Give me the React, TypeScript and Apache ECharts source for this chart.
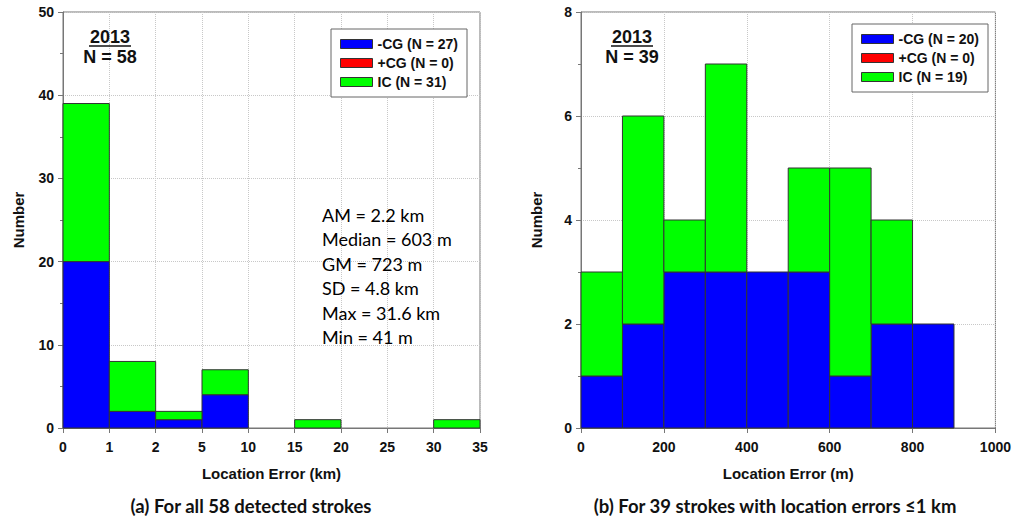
import React, { useEffect, useRef } from "react";
import * as echarts from "echarts";

// Panel (a): bins of location error (km), equal-width display bins
const leftEdgeLabels = ["0", "1", "2", "5", "10", "15", "20", "25", "30", "35"];
const leftNegCG = [20, 2, 1, 4, 0, 0, 0, 0, 0];
const leftPosCG = [0, 0, 0, 0, 0, 0, 0, 0, 0];
const leftIC = [19, 6, 1, 3, 0, 1, 0, 0, 1];
const leftNames = ["-CG (N = 27)", "+CG (N = 0)", "IC (N = 31)"];
const leftStats = ["AM = 2.2 km", "Median = 603 m", "GM = 723 m", "SD = 4.8 km", "Max = 31.6 km", "Min = 41 m"];

// Panel (b): bins of 100 m
const rightBinStarts = [0, 100, 200, 300, 400, 500, 600, 700, 800];
const rightBinWidth = 100;
const rightNegCG = [1, 2, 3, 3, 3, 3, 1, 2, 2];
const rightPosCG = [0, 0, 0, 0, 0, 0, 0, 0, 0];
const rightIC = [2, 4, 1, 4, 0, 2, 4, 2, 0];
const rightNames = ["-CG (N = 20)", "+CG (N = 0)", "IC (N = 19)"];

const COLORS = ["#0000ff", "#ff0000", "#00ff00"];

function stackRows(starts: number[], ends: number[], layers: number[][]) {
  const out: number[][][] = layers.map(() => []);
  starts.forEach((s, i) => {
    let base = 0;
    layers.forEach((layer, k) => {
      const v = layer[i];
      if (v > 0) out[k].push([s, ends[i], base, base + v]);
      base += v;
    });
  });
  return out;
}

const renderRect = (color: string) => (params: any, api: any) => {
  const p0 = api.coord([api.value(0), api.value(2)]);
  const p1 = api.coord([api.value(1), api.value(3)]);
  return {
    type: "rect",
    shape: { x: p0[0], y: p1[1], width: p1[0] - p0[0], height: p0[1] - p1[1] },
    style: { fill: color, stroke: "#333", lineWidth: 1 },
  };
};

const ARIAL = "'Liberation Sans', Arial, sans-serif";

export default function App() {
  const ref = useRef<HTMLDivElement>(null);
  useEffect(() => {
    document.body.style.margin = "0";
    const chart = echarts.init(ref.current!, null, { renderer: "svg" });

    const leftStarts = leftNegCG.map((_, i) => i);
    const leftEnds = leftNegCG.map((_, i) => i + 1);
    const leftStack = stackRows(leftStarts, leftEnds, [leftNegCG, leftPosCG, leftIC]);
    const rightEnds = rightBinStarts.map((s) => s + rightBinWidth);
    const rightStack = stackRows(rightBinStarts, rightEnds, [rightNegCG, rightPosCG, rightIC]);

    const axisColor = "#777";
    const labelStyle = { color: "#111", fontFamily: ARIAL, fontWeight: "bold" as const, fontSize: 14 };
    const nameStyle = { color: "#111", fontFamily: ARIAL, fontWeight: "bold" as const, fontSize: 15 };
    const split = { show: true, lineStyle: { color: "#c8c8c8", type: "dotted" as const, width: 1 } };

    const mkY = (gridIndex: number, max: number, interval: number) => ({
      type: "value",
      gridIndex,
      min: 0,
      max,
      interval,
      name: "Number",
      nameLocation: "middle",
      nameGap: 37,
      nameTextStyle: nameStyle,
      axisLine: { show: true, lineStyle: { color: axisColor } },
      axisTick: { show: true, length: 5, lineStyle: { color: axisColor } },
      minorTick: { show: true, splitNumber: 2, length: 3, lineStyle: { color: axisColor } },
      axisLabel: { ...labelStyle, margin: 9 },
      splitLine: split,
    });

    const legendBase = {
      orient: "vertical",
      icon: "rect",
      itemWidth: 32,
      itemHeight: 9,
      itemGap: 5,
      padding: [8, 9, 8, 9],
      borderColor: "#666",
      borderWidth: 1,
      backgroundColor: "#fff",
      selectedMode: false,
      textStyle: { color: "#111", fontFamily: ARIAL, fontWeight: "bold", fontSize: 14, lineHeight: 13 },
    };

    const mkSeries = (names: string[], stacks: number[][][], axisIndex: number) =>
      names.map((name, k) => ({
        type: "custom",
        name,
        xAxisIndex: axisIndex,
        yAxisIndex: axisIndex,
        itemStyle: { color: COLORS[k] },
        encode: { x: [0, 1], y: [2, 3] },
        renderItem: renderRect(COLORS[k]),
        data: stacks[k],
        z: 3,
      }));

    const statFont = { fontFamily: "Lato, sans-serif", fontSize: 18, fill: "#000" };
    const headFont = { fontFamily: ARIAL, fontWeight: "bold", fontSize: 18, fill: "#111" };
    const capFont = { fontFamily: "Lato, sans-serif", fontWeight: "bold", fontSize: 18.5, fill: "#111" };

    chart.setOption({
      animation: false,
      grid: [
        { left: 63, right: 534, top: 12, bottom: 90, show: true, borderColor: axisColor, borderWidth: 1, containLabel: false },
        { left: 581, right: 17, top: 12, bottom: 90, show: true, borderColor: axisColor, borderWidth: 1, containLabel: false },
      ],
      xAxis: [
        {
          type: "value",
          gridIndex: 0,
          min: 0,
          max: leftEdgeLabels.length - 1,
          interval: 1,
          name: "Location Error (km)",
          nameLocation: "middle",
          nameGap: 38,
          nameTextStyle: nameStyle,
          axisLine: { show: true, lineStyle: { color: axisColor } },
          axisTick: { show: true, length: 5, lineStyle: { color: axisColor } },
          axisLabel: { ...labelStyle, margin: 12, formatter: (v: number) => leftEdgeLabels[v] ?? "" },
          splitLine: split,
        },
        {
          type: "value",
          gridIndex: 1,
          min: 0,
          max: 1000,
          interval: 200,
          name: "Location Error (m)",
          nameLocation: "middle",
          nameGap: 38,
          nameTextStyle: nameStyle,
          axisLine: { show: true, lineStyle: { color: axisColor } },
          axisTick: { show: true, length: 5, lineStyle: { color: axisColor } },
          axisLabel: { ...labelStyle, margin: 12, formatter: (v: number) => String(v) },
          splitLine: split,
        },
      ],
      yAxis: [mkY(0, 50, 10), mkY(1, 8, 2)],
      legend: [
        { ...legendBase, left: 331, top: 29, data: leftNames.map((n, k) => ({ name: n, itemStyle: { color: COLORS[k], borderColor: "#333", borderWidth: 1 } })) },
        { ...legendBase, left: 852, top: 24, data: rightNames.map((n, k) => ({ name: n, itemStyle: { color: COLORS[k], borderColor: "#333", borderWidth: 1 } })) },
      ],
      series: [...mkSeries(leftNames, leftStack, 0), ...mkSeries(rightNames, rightStack, 1)],
      graphic: [
        { type: "text", x: 110, y: 37, style: { ...headFont, text: "2013", textAlign: "center", textVerticalAlign: "middle" }, z: 10 },
        { type: "line", shape: { x1: 89, y1: 46, x2: 131, y2: 46 }, style: { stroke: "#111", lineWidth: 1.5 }, z: 10 },
        { type: "text", x: 110, y: 57, style: { ...headFont, text: "N = 58", textAlign: "center", textVerticalAlign: "middle" }, z: 10 },
        { type: "text", x: 632, y: 37, style: { ...headFont, text: "2013", textAlign: "center", textVerticalAlign: "middle" }, z: 10 },
        { type: "line", shape: { x1: 611, y1: 46, x2: 653, y2: 46 }, style: { stroke: "#111", lineWidth: 1.5 }, z: 10 },
        { type: "text", x: 632, y: 57, style: { ...headFont, text: "N = 39", textAlign: "center", textVerticalAlign: "middle" }, z: 10 },
        ...leftStats.map((t, i) => ({
          type: "text",
          x: 322,
          y: 215 + i * 24.4,
          style: { ...statFont, text: t, textAlign: "left", textVerticalAlign: "middle" },
          z: 10,
        })),
        { type: "text", x: 251, y: 506, style: { ...capFont, text: "(a) For all 58 detected strokes", textAlign: "center", textVerticalAlign: "middle" }, z: 10 },
        { type: "text", x: 775, y: 506, style: { ...capFont, text: "(b) For 39 strokes with location errors \u22641 km", textAlign: "center", textVerticalAlign: "middle" }, z: 10 },
      ],
    });
    return () => chart.dispose();
  }, []);
  return <div ref={ref} style={{ width: 1014, height: 518 }} />;
}
